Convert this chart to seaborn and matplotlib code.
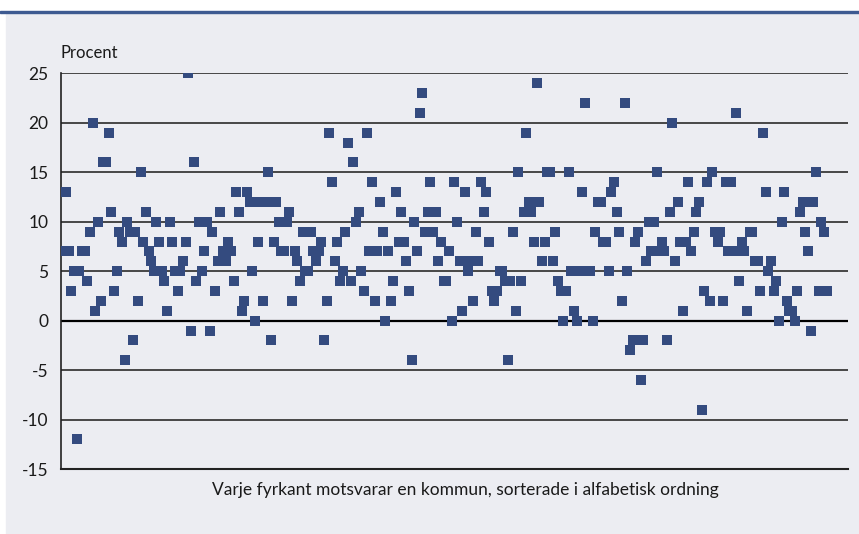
import numpy as np
import pandas as pd
import matplotlib
matplotlib.use("Agg")
import matplotlib.pyplot as plt
from matplotlib.patches import Rectangle
import seaborn as sns

# Förändring i procent per kommun, i alfabetisk ordning
forandring = [
    7, 13, 7, 3, 5, -12, 5, 7, 7, 4, 9, 20, 1, 10, 2, 16, 16, 19, 11, 3,
    5, 9, 8, -4, 10, 9, -2, 9, 2, 15, 8, 11, 7, 6, 5, 10, 8, 5,
    4, 1, 10, 8, 5, 3, 5, 6, 8, 25, -1, 16,
    4, 10, 5, 7, 10, -1, 9, 3, 6, 11, 7, 6, 8, 7, 4, 13, 11, 1, 2, 13,
    12, 5, 0, 8, 12, 2, 12, 15, -2, 8, 12, 10, 7, 7, 10, 11, 2, 7, 6, 4,
    9, 5, 5, 9, 7, 6, 7, 8, -2, 2,
    19, 14, 6, 8, 4, 5, 9, 18, 4, 16, 10, 11, 5, 3, 19, 7, 14, 2, 7, 12,
    9, 0, 7, 2, 4, 13, 8, 11, 8, 6, 3, -4, 10, 7, 21, 23, 9, 11, 14, 9,
    11, 6, 8, 4, 4, 7, 0, 14, 10,
    6, 1, 13, 5, 6, 2, 9, 6, 14, 11, 13, 8, 3, 2, 3, 5, 5, 4, -4, 4,
    9, 1, 15, 4, 11, 19, 12, 11, 8, 24, 12, 6, 8, 15, 15, 6, 9, 4, 3, 0,
    3, 15, 5, 1, 0, 5, 13, 22, 5, 5, 0, 9, 12, 12,
    8, 8, 5, 13, 14, 11, 9, 2, 22, 5, -3, -2, 8, 9, -6, -2, 6, 10, 7, 10, 15,
    7, 8, 7, -2, 11, 20, 6, 12, 8, 1, 8, 14, 7, 9, 11, 12, -9, 3, 14, 2,
    15, 9, 8, 9, 2,
    14, 7, 14, 7, 21, 4, 8, 7, 1, 9, 9, 6, 6, 3, 19, 13, 5, 6, 3, 4,
    0, 10, 13, 2, 1, 1, 0, 3, 11, 12, 9, 7, -1, 12, 15, 3, 10, 9, 3,
]
y_ticks = [-15, -10, -5, 0, 5, 10, 15, 20, 25]
y_labels = ["-15", "-10", "-5", "0", "5", "10", "15", "20", "25"]

df = pd.DataFrame({"kommun": np.arange(len(forandring)), "procent": forandring})

bg = "#ECEDF2"
sns.set_style("white", {"axes.facecolor": bg})
plt.rcParams["font.family"] = ["Lato", "DejaVu Sans"]

fig = plt.figure(figsize=(8.59, 5.34), dpi=100, facecolor="white")
fig.patches.append(Rectangle((6 / 859, 0), 1, (534 - 12) / 534,
                             transform=fig.transFigure, color=bg, zorder=-10))
fig.patches.append(Rectangle((0, 1 - 13 / 534), 1, 2.5 / 534,
                             transform=fig.transFigure, color="#3D5A91", zorder=-5))

ax = fig.add_axes([61 / 859, 1 - 469 / 534, (848 - 61) / 859, (469 - 72.5) / 534])

# horisontella stödlinjer, nollan svart
for t in y_ticks[1:]:
    ax.axhline(t, color="#000000" if t == 0 else "#3a3a3a",
               lw=1.6 if t == 0 else 1.3, zorder=1)

sns.scatterplot(data=df, x="kommun", y="procent", marker="s", s=44,
                color="#344B7F", linewidth=0, ax=ax, zorder=3, legend=False)

ax.set_xlim(-0.9, 295)
ax.set_ylim(-15, 25.1)
ax.set_yticks(y_ticks)
ax.set_yticklabels(y_labels)
ax.set_xticks([])
ax.tick_params(axis="y", length=0, pad=9, labelsize=12.5, labelcolor="#1a1a1a")

for s in ["top", "right"]:
    ax.spines[s].set_visible(False)
ax.spines["left"].set_color("#222222")
ax.spines["left"].set_linewidth(1.2)
ax.spines["bottom"].set_color("#222222")
ax.spines["bottom"].set_linewidth(1.5)

ax.set_ylabel("")
ax.set_xlabel("Varje fyrkant motsvarar en kommun, sorterade i alfabetisk ordning",
              fontsize=12.5, color="#1a1a1a", labelpad=9)
ax.xaxis.label.set_x(0.514)
fig.text(61 / 859, 1 - 58 / 534, "Procent", fontsize=12, color="#1a1a1a",
         ha="left", va="baseline")

fig.savefig("out.png", dpi=100, facecolor=fig.get_facecolor())
